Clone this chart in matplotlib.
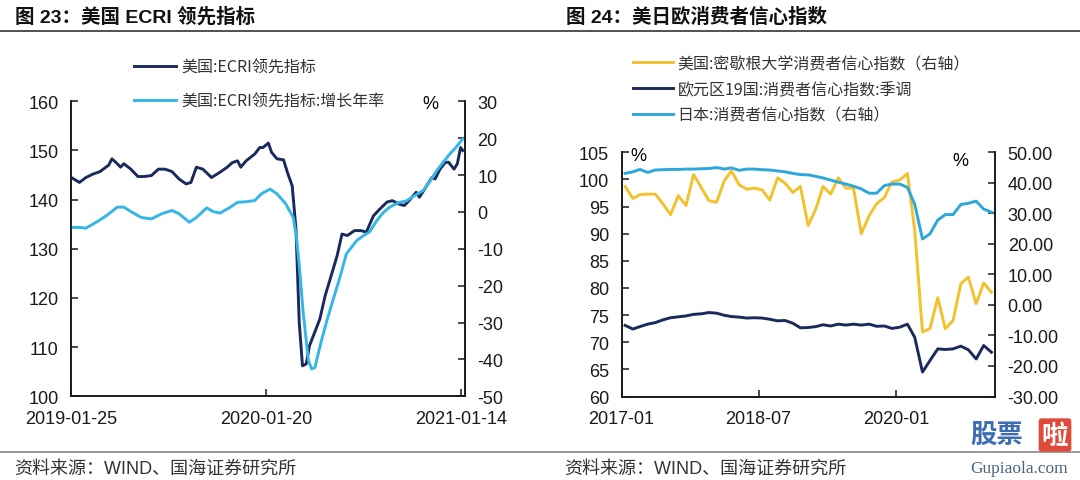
import pandas as pd
import matplotlib
matplotlib.use("Agg")
import matplotlib.pyplot as plt
import matplotlib.dates as mdates
from matplotlib.lines import Line2D
from matplotlib.ticker import FormatStrFormatter

plt.rcParams['font.family'] = ['Liberation Sans', 'Noto Sans CJK SC', 'DejaVu Sans']
plt.rcParams['axes.unicode_minus'] = False

# ---- 图23 美国ECRI领先指标 (周度，按距 2019-01-25 的天数记录)
ecri_start = "2019-01-25"
ecri_day = [0, 15, 27, 40, 53, 59, 69, 75, 85, 91, 97, 110, 123, 135, 148, 161, 173, 186,
            199, 212, 221, 231, 243, 259, 275, 288, 297, 307, 313, 323, 339, 348, 354, 364,
            370, 380, 392, 399, 408, 415, 421, 427, 434, 440, 446, 459, 469, 481, 491, 500,
            510, 523, 535, 545, 558, 570, 583, 593, 605, 615, 624, 637, 643, 653, 666, 672,
            681, 691, 697, 707, 713, 719, 723]
ecri_level = [144.5, 143.5, 144.5, 145.2, 145.7, 146.2, 147.0, 148.3, 147.3, 146.6, 147.3,
              146.2, 144.7, 144.7, 144.9, 146.2, 146.2, 145.7, 144.2, 143.2, 143.5, 146.6,
              146.2, 144.5, 145.6, 146.6, 147.5, 147.9, 146.6, 147.9, 149.3, 150.6, 150.6,
              151.5, 149.6, 148.3, 148.1, 145.6, 142.8, 134.0, 115.0, 106.2, 106.6, 110.3,
              112.0, 115.7, 120.5, 124.9, 128.6, 133.0, 132.7, 133.7, 133.7, 133.4, 136.7,
              138.1, 139.5, 139.8, 139.1, 138.8, 139.8, 141.5, 140.5, 142.2, 144.5, 144.2,
              146.2, 147.6, 147.6, 146.2, 147.3, 150.6, 150.0]
yoy_day = [0, 15, 27, 46, 65, 85, 97, 110, 129, 148, 167, 186, 199, 218, 231, 250, 262, 275,
           294, 307, 326, 339, 351, 367, 380, 396, 410, 416, 422, 428, 434, 438, 444, 450,
           461, 472, 484, 497, 508, 518, 527, 538, 551, 564, 576, 588, 604, 619, 635, 650,
           662, 675, 687, 699, 708, 716, 723]
ecri_yoy = [-4.2, -4.2, -4.4, -2.8, -1.0, 1.3, 1.3, 0.1, -1.5, -1.9, -0.5, 0.4, -0.5, -2.8,
            -1.5, 1.1, 0.1, -0.3, 1.3, 2.6, 2.8, 3.1, 4.9, 6.2, 4.9, 2.2, -1.5, -6.9, -16.0,
            -26.8, -35.0, -40.3, -42.6, -42.2, -35.5, -29.5, -23.6, -17.3, -11.4, -9.5, -7.8,
            -6.6, -5.4, -2.4, -0.2, 1.3, 2.5, 3.0, 4.5, 5.8, 8.2, 11.2, 13.5, 15.7, 17.1,
            18.5, 19.8]
ecri_ticks = ["2019-01-25", "2020-01-20", "2021-01-14"]

# ---- 图24 美日欧消费者信心指数 (月度 2017-01 ~ 2021-01)
conf_month = pd.date_range("2017-01-01", "2021-01-01", freq="MS") + pd.Timedelta(days=14)
us_michigan = [98.7, 96.5, 97.2, 97.3, 97.3, 95.5, 93.5, 97.0, 95.2, 100.9, 98.5, 96.1,
               95.8, 99.8, 101.6, 99.0, 98.2, 98.4, 98.1, 96.2, 100.3, 99.3, 97.6, 98.7,
               91.5, 94.6, 98.7, 97.3, 100.3, 98.4, 98.4, 90.0, 93.3, 95.5, 96.7, 99.5,
               99.9, 101.1, 90.6, 71.9, 72.5, 78.2, 72.5, 74.0, 80.8, 82.0, 77.1, 80.9, 79.2]
euro_conf = [-6.7, -7.9, -7.1, -6.3, -5.8, -4.9, -4.2, -3.9, -3.6, -3.1, -2.9, -2.5,
             -2.7, -3.4, -3.8, -4.0, -4.3, -4.2, -4.3, -4.7, -5.2, -5.1, -6.0, -7.5,
             -7.4, -7.1, -6.5, -6.9, -6.3, -6.6, -6.3, -6.6, -6.3, -7.0, -6.9, -7.7,
             -7.3, -6.3, -10.6, -22.0, -18.2, -14.4, -14.6, -14.4, -13.5, -14.7, -17.7,
             -13.3, -15.5]
japan_conf = [43.1, 43.6, 44.4, 43.4, 44.2, 44.3, 44.4, 44.4, 44.5, 44.5, 44.6, 44.7,
              45.0, 44.5, 44.9, 44.1, 44.5, 44.5, 44.3, 44.2, 43.9, 43.6, 43.1, 42.7,
              42.6, 42.1, 41.6, 40.9, 40.2, 39.6, 38.9, 38.0, 36.6, 36.6, 39.1, 39.6,
              39.6, 38.5, 33.0, 21.6, 23.3, 27.8, 29.6, 29.6, 32.9, 33.3, 34.0, 31.4, 30.4]
conf_ticks = ["2017-01-01", "2018-07-01", "2020-01-01"]

navy = "#1b2a5c"
sky = "#35b6e6"
sky2 = "#2ca7dc"
gold = "#f2c12e"
cjk = ['Noto Sans CJK SC', 'DejaVu Sans']

W, H = 1080, 481
fig = plt.figure(figsize=(W / 100, H / 100), dpi=100)


def box(x0, x1, ytop, ybot):
    return [x0 / W, 1 - ybot / H, (x1 - x0) / W, (ybot - ytop) / H]


def style(ax, axr):
    for a in (ax, axr):
        a.spines['top'].set_visible(False)
        for s in ('left', 'right', 'bottom'):
            a.spines[s].set_linewidth(1.2)
            a.spines[s].set_color('#1a1a1a')
        a.tick_params(direction='in', length=5, width=1.1, labelsize=13, pad=9,
                      colors='#1a1a1a')
    ax.tick_params(axis='x', pad=10)


# ----------------- 左图 -----------------
ax1 = fig.add_axes(box(71.3, 464.9, 102.3, 397.3))
ax1r = ax1.twinx()
d1 = pd.Timestamp(ecri_start) + pd.to_timedelta(ecri_day, unit='D')
d2 = pd.Timestamp(ecri_start) + pd.to_timedelta(yoy_day, unit='D')
l1, = ax1.plot(d1, ecri_level, color=navy, lw=2.1)
l2, = ax1r.plot(d2, ecri_yoy, color=sky, lw=2.1)
ax1.set_ylim(100, 160)
ax1.set_yticks(range(100, 161, 10))
ax1r.set_ylim(-50, 30)
ax1r.set_yticks(range(-50, 31, 10))
ax1.set_xlim(pd.Timestamp(ecri_start), pd.Timestamp("2021-01-21"))
ax1.set_xticks(pd.to_datetime(ecri_ticks))
ax1.xaxis.set_major_formatter(mdates.DateFormatter('%Y-%m-%d'))
style(ax1, ax1r)

fig.legend([l1, l2], ["美国:ECRI领先指标", "美国:ECRI领先指标:增长年率"],
           loc='upper left', bbox_to_anchor=(134 / W, 1 - 60 / H), frameon=False,
           prop={'family': cjk, 'size': 11.5}, handlelength=2.6, handletextpad=0.35,
           labelspacing=1.05, borderpad=0, borderaxespad=0, labelcolor='#333333')
fig.text(430 / W, 1 - 105 / H, "%", fontsize=13, ha='center', va='center')

# ----------------- 右图 -----------------
ax2 = fig.add_axes(box(621.6, 995.2, 153.3, 397.5))
ax2r = ax2.twinx()
m1, = ax2.plot(conf_month, us_michigan, color=gold, lw=2.1)
m2, = ax2r.plot(conf_month, euro_conf, color=navy, lw=2.1)
m3, = ax2r.plot(conf_month, japan_conf, color=sky2, lw=2.1)
ax2.set_ylim(60, 105)
ax2.set_yticks(range(60, 106, 5))
ax2r.set_ylim(-30, 50)
ax2r.set_yticks(range(-30, 51, 10))
ax2r.yaxis.set_major_formatter(FormatStrFormatter('%.2f'))
ax2.set_xlim(pd.Timestamp("2017-01-01"), pd.Timestamp("2021-01-30"))
ax2.set_xticks(pd.to_datetime(conf_ticks))
ax2.xaxis.set_major_formatter(mdates.DateFormatter('%Y-%m'))
style(ax2, ax2r)

fig.legend([m1, m2, m3],
           ["美国:密歇根大学消费者信心指数（右轴）", "欧元区19国:消费者信心指数:季调",
            "日本:消费者信心指数（右轴）"],
           loc='upper left', bbox_to_anchor=(633 / W, 1 - 56 / H), frameon=False,
           prop={'family': cjk, 'size': 11.5}, handlelength=2.5, handletextpad=0.3,
           labelspacing=0.55, borderpad=0, borderaxespad=0, labelcolor='#333333')
fig.text(638 / W, 1 - 157 / H, "%", fontsize=13, ha='center', va='center')
fig.text(960 / W, 1 - 162 / H, "%", fontsize=13, ha='center', va='center')

# ----------------- 标题、分隔线、来源 -----------------
fig.text(15 / W, 1 - 17 / H, "图 23：美国 ECRI 领先指标", fontsize=14,
         fontweight='bold', va='center', color='#111111')
fig.text(566 / W, 1 - 17 / H, "图 24：美日欧消费者信心指数", fontsize=14,
         fontweight='bold', va='center', color='#111111')
fig.add_artist(Line2D([0, 1], [1 - 32 / H] * 2, color='#333333', lw=1.2))
fig.add_artist(Line2D([0, 1], [1 - 453 / H] * 2, color='#888888', lw=1.2))
fig.text(14 / W, 1 - 469 / H, "资料来源：WIND、国海证券研究所", fontsize=13,
         va='center', color='#333333')
fig.text(564 / W, 1 - 469 / H, "资料来源：WIND、国海证券研究所", fontsize=13,
         va='center', color='#333333')

# 水印
fig.text(997 / W, 1 - 436 / H, "股票", fontsize=19, fontweight='bold', color='#3e6db4',
         ha='center', va='center', family=cjk)
fig.text(1055 / W, 1 - 436 / H, "啦", fontsize=19, fontweight='bold', color='white',
         ha='center', va='center', family=cjk,
         bbox=dict(boxstyle='round,pad=0.12', fc='#e04a3b', ec='none'))
fig.text(1019 / W, 1 - 469 / H, "Gupiaola.com", fontsize=12.5, color='#4a6584',
         ha='center', va='center', family=['Liberation Serif', 'DejaVu Serif'])

fig.savefig("out.png", dpi=100)
